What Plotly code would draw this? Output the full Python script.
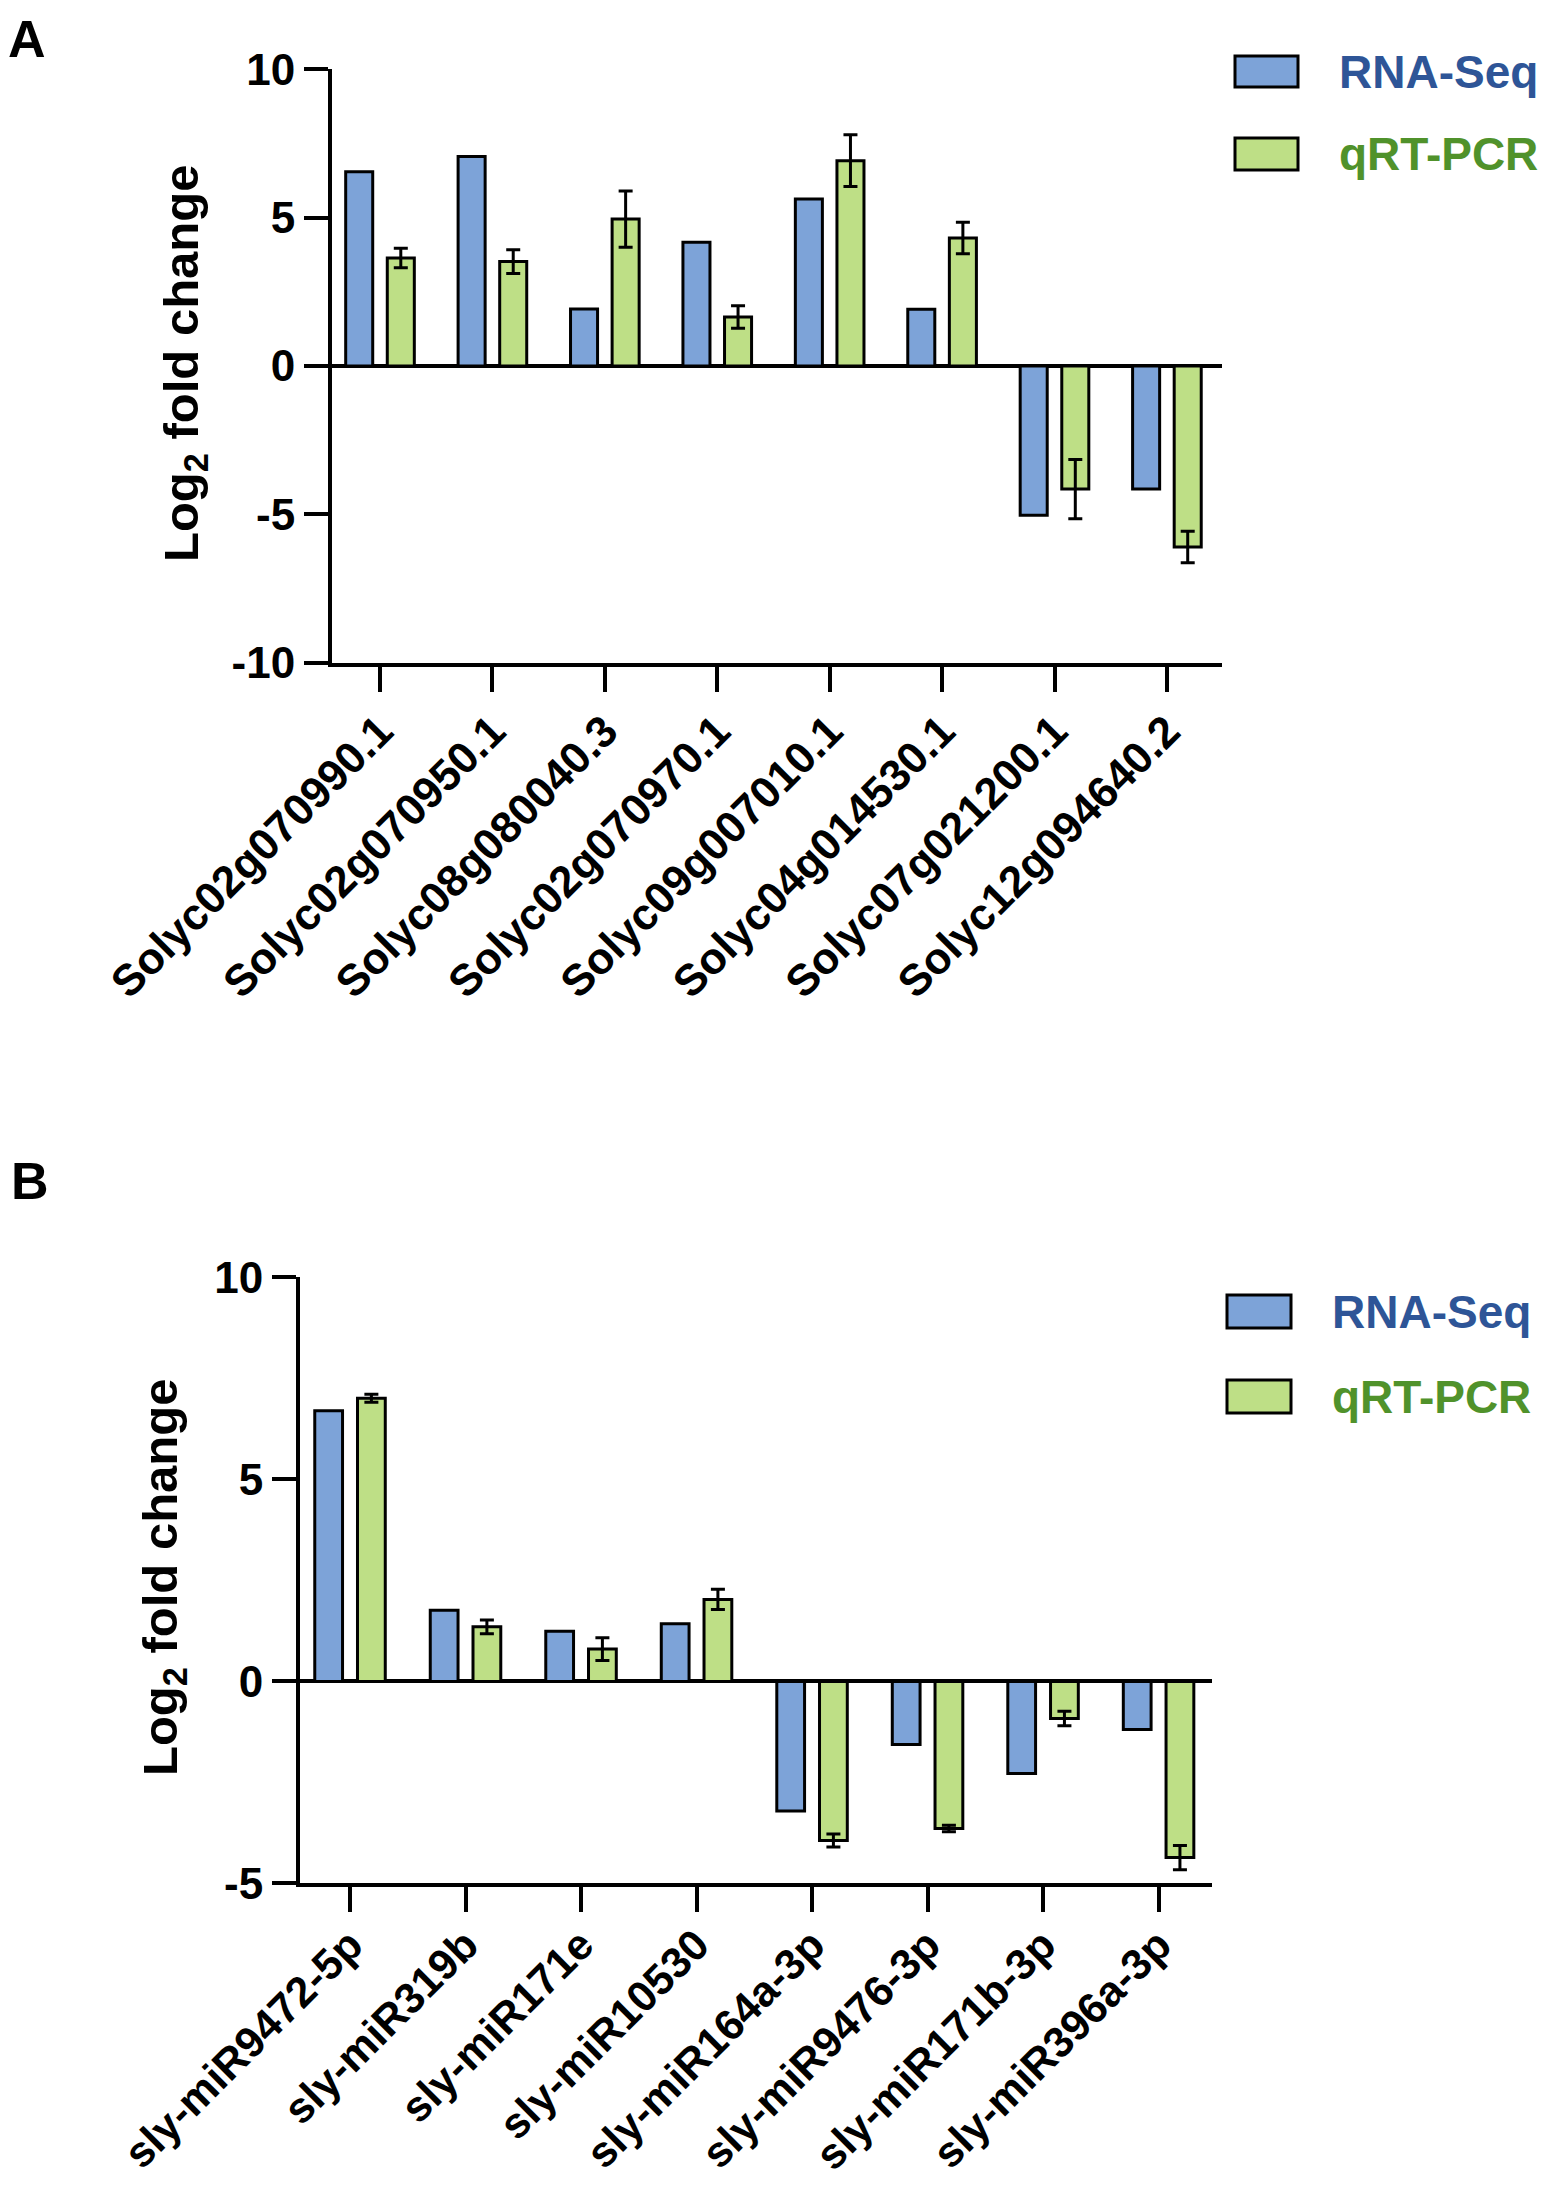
import plotly.graph_objects as go

W, H = 1553, 2193          # reference picture size
M = 8                      # default page body margin
FW, FH = W - 2 * M, H - 2 * M

genes = ["Solyc02g070990.1", "Solyc02g070950.1", "Solyc08g080040.3", "Solyc02g070970.1",
         "Solyc09g007010.1", "Solyc04g014530.1", "Solyc07g021200.1", "Solyc12g094640.2"]
rna_a = [6.55, 7.06, 1.92, 4.17, 5.63, 1.91, -5.03, -4.15]
qpcr_a = [3.64, 3.52, 4.95, 1.65, 6.92, 4.31, -4.15, -6.10]
err_a = [0.33, 0.40, 0.95, 0.38, 0.87, 0.53, 1.00, 0.53]

mirs = ["sly-miR9472-5p", "sly-miR319b", "sly-miR171e", "sly-miR10530",
        "sly-miR164a-3p", "sly-miR9476-3p", "sly-miR171b-3p", "sly-miR396a-3p"]
rna_b = [6.70, 1.76, 1.24, 1.43, -3.21, -1.56, -2.28, -1.19]
qpcr_b = [7.01, 1.35, 0.80, 2.03, -3.94, -3.64, -0.92, -4.36]
err_b = [0.10, 0.17, 0.28, 0.25, 0.16, 0.08, 0.18, 0.30]

yticks_a = [-10, -5, 0, 5, 10]
yticklabels_a = ["-10", "-5", "0", "5", "10"]
yticks_b = [-5, 0, 5, 10]
yticklabels_b = ["-5", "0", "5", "10"]
series_names = ["RNA-Seq", "qRT-PCR"]

BLUE = "#7DA3D8"
GREEN = "#BEDF86"
BLUE_TXT = "#2E5597"
GREEN_TXT = "#50922B"
FONT = "Liberation Sans, Arial, sans-serif"


def px(x):
    return (x - M) / FW


def py(y):
    return 1 - (y - M) / FH


fig = go.Figure()

for xa, ya, cats, r, q, e in [("x", "y", genes, rna_a, qpcr_a, err_a),
                              ("x2", "y2", mirs, rna_b, qpcr_b, err_b)]:
    fig.add_trace(go.Bar(x=cats, y=r, name=series_names[0], xaxis=xa, yaxis=ya,
                         marker=dict(color=BLUE, line=dict(color="black", width=3)),
                         showlegend=False))
    fig.add_trace(go.Bar(x=cats, y=q, name=series_names[1], xaxis=xa, yaxis=ya,
                         marker=dict(color=GREEN, line=dict(color="black", width=3)),
                         error_y=dict(type="data", array=e, visible=True, color="black",
                                      thickness=3, width=7),
                         showlegend=False))

axis_common = dict(showline=True, linecolor="black", linewidth=4, ticks="outside",
                   tickwidth=4, tickcolor="black", showgrid=False, mirror=False,
                   automargin=False)
xfont_a = dict(size=44, family=FONT, weight="bold", color="black")
xfont_b = dict(size=43, family=FONT, weight="bold", color="black")
yfont = dict(size=44, family=FONT, weight="bold", color="black")

fig.update_layout(
    template="none",
    width=FW, height=FH, autosize=False,
    margin=dict(l=0, r=0, t=0, b=0, pad=0),
    paper_bgcolor="white", plot_bgcolor="white",
    showlegend=False,
    barmode="group", bargap=0.26, bargroupgap=0.35,
    font=dict(family=FONT, color="black"),
    xaxis=dict(domain=[px(332), px(1222)], range=[-0.427, 7.49], anchor="y",
               ticklen=25, tickangle=-45, tickfont=xfont_a, ticklabelstandoff=-4,
               **axis_common),
    yaxis=dict(domain=[py(662.6), py(69.3)], range=[-10, 10], anchor="x",
               tickvals=yticks_a, ticktext=yticklabels_a, ticklen=24,
               zeroline=True, zerolinecolor="black", zerolinewidth=4,
               tickfont=yfont, **axis_common),
    xaxis2=dict(domain=[px(300), px(1211.7)], range=[-0.433, 7.46], anchor="y2",
                ticklen=25, tickangle=-45, tickfont=xfont_b, ticklabelstandoff=-10,
                **axis_common),
    yaxis2=dict(domain=[py(1883.4), py(1277.4)], range=[-5, 10], anchor="x2",
                tickvals=yticks_b, ticktext=yticklabels_b, ticklen=24,
                zeroline=True, zerolinecolor="black", zerolinewidth=4,
                tickfont=yfont, **axis_common),
)

ann = []
shapes = []
# axis titles
for xc, yc in [(185, 364), (163, 1578)]:
    ann.append(dict(text="Log<sub>2</sub> fold change", x=px(xc), y=py(yc), xref="paper", yref="paper",
                    textangle=-90, showarrow=False, xanchor="center", yanchor="middle",
                    font=dict(size=49, family=FONT, weight="bold", color="black")))
# panel letters
for letter, xl, yc in [("A", 6, 39), ("B", 9, 1181)]:
    ann.append(dict(text=letter, x=px(xl), y=py(yc), xref="paper", yref="paper",
                    showarrow=False, xanchor="left", yanchor="middle",
                    font=dict(size=52, family=FONT, weight="bold", color="black")))
# legends
legend_specs = [
    (1235, 1298, 1337, [(56, 87), (138, 170)]),
    (1227, 1291, 1330, [(1295, 1328), (1380, 1413)]),
]
for x0, x1, xt, rows in legend_specs:
    for (y0, y1), name, fill, tcol in zip(rows, series_names, [BLUE, GREEN], [BLUE_TXT, GREEN_TXT]):
        shapes.append(dict(type="rect", xref="paper", yref="paper", x0=px(x0), x1=px(x1),
                           y0=py(y1), y1=py(y0), fillcolor=fill,
                           line=dict(color="black", width=3)))
        ann.append(dict(text=name, x=px(xt), y=py((y0 + y1) / 2), xref="paper", yref="paper",
                        showarrow=False, xanchor="left", yanchor="middle",
                        font=dict(size=46, family=FONT, weight="bold", color=tcol)))

fig.update_layout(annotations=ann, shapes=shapes)
fig.write_html("out.html")
